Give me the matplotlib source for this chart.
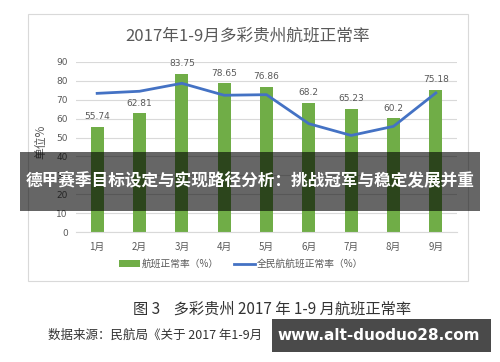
import matplotlib
matplotlib.use("Agg")
import matplotlib.pyplot as plt
from matplotlib.patches import Rectangle

plt.rcParams['font.family'] = ['Noto Sans CJK SC', 'DejaVu Sans']

months = ['1月', '2月', '3月', '4月', '5月', '6月', '7月', '8月', '9月']
airline_rate = [55.74, 62.81, 83.75, 78.65, 76.86, 68.2, 65.23, 60.2, 75.18]
national_rate = [73.3, 74.4, 78.6, 72.3, 72.6, 57.3, 51.1, 55.9, 73.5]
yticks = [0, 10, 20, 30, 40, 50, 60, 70, 80, 90]

W, H = 500, 362
fig = plt.figure(figsize=(W / 100, H / 100), dpi=100)
fig.patch.set_facecolor('white')

def fx(px):
    return px / W

def fy(py):
    return 1 - py / H

# chart frame
fig.patches.append(Rectangle((fx(28), fy(281)), fx(468) - fx(28), fy(14) - fy(281),
                             transform=fig.transFigure, facecolor='white',
                             edgecolor='#d9d9d9', linewidth=0.8, zorder=-5))

ax = fig.add_axes([fx(76), fy(232.3), fx(457) - fx(76), fy(61.7) - fy(232.3)])
ax.set_zorder(1)
ax.set_facecolor('none')
x = list(range(len(months)))
bars = ax.bar(x, airline_rate, width=0.31, color='#70ad47', zorder=2, label='航班正常率（%）')
line, = ax.plot(x, national_rate, color='#4472c4', linewidth=2, zorder=3, label='全民航航班正常率（%）')
for xi, v in zip(x, airline_rate):
    ax.annotate(f'{v:g}', (xi, v), xytext=(0, 4), textcoords='offset points',
                ha='center', va='bottom', fontsize=6.5, color='#595959', family=['DejaVu Sans'])

ax.set_xlim(-0.5, len(months) - 0.5)
ax.set_ylim(0, 90)
ax.set_yticks(yticks)
ax.set_yticklabels([str(t) for t in yticks], fontsize=6.5, color='#595959', family=['DejaVu Sans'])
ax.set_xticks(x)
ax.set_xticklabels(months, fontsize=7, color='#595959')
ax.tick_params(axis='both', length=0, pad=6)
ax.tick_params(axis='x', pad=7)
ax.grid(axis='y', color='#d9d9d9', linewidth=0.8, zorder=0)
ax.set_axisbelow(True)
for s in ['top', 'right', 'left']:
    ax.spines[s].set_visible(False)
ax.spines['bottom'].set_color('#d9d9d9')
ax.set_ylabel('单位%', fontsize=8.5, color='#595959', labelpad=4)
ax.yaxis.set_label_coords(-0.075, 0.53)

fig.text(fx(248), fy(36), '2017年1-9月多彩贵州航班正常率', ha='center', va='center',
         fontsize=12, color='#595959')

fig.legend(handles=[bars, line], loc='center', bbox_to_anchor=(fx(241), fy(264)), ncol=2,
           frameon=False, fontsize=7, handlelength=2.2, handleheight=0.6,
           columnspacing=1.5, handletextpad=0.2, labelcolor='#595959')

# captions
fig.text(fx(272), fy(309), '图 3    多彩贵州 2017 年 1-9 月航班正常率', ha='center', va='center',
         fontsize=11, color='#333333')
fig.text(fx(48), fy(335), '数据来源：民航局《关于 2017 年1-9月', ha='left', va='center',
         fontsize=9, color='#333333')

# banner overlay (drawn above the axes)
banner = Rectangle((fx(20), fy(211)), fx(480) - fx(20), fy(152) - fy(211),
                   transform=fig.transFigure, facecolor='black', alpha=0.6,
                   edgecolor='none', zorder=10)
fig.add_artist(banner)
fig.text(fx(250), fy(181.5), '德甲赛季目标设定与实现路径分析：挑战冠军与稳定发展并重',
         ha='center', va='center', fontsize=12, color='white', fontweight='bold', zorder=11)

# watermark box
wm = Rectangle((fx(272), fy(352)), fx(491) - fx(272), fy(319) - fy(352),
               transform=fig.transFigure, facecolor='#4a4a4a',
               edgecolor='none', zorder=10)
fig.add_artist(wm)
fig.text(fx(379), fy(335.5), 'www.alt-duoduo28.com', ha='center', va='center',
         fontsize=11, color='white', fontweight='bold', family=['DejaVu Sans'], zorder=11)

fig.savefig('out.png', dpi=100)
